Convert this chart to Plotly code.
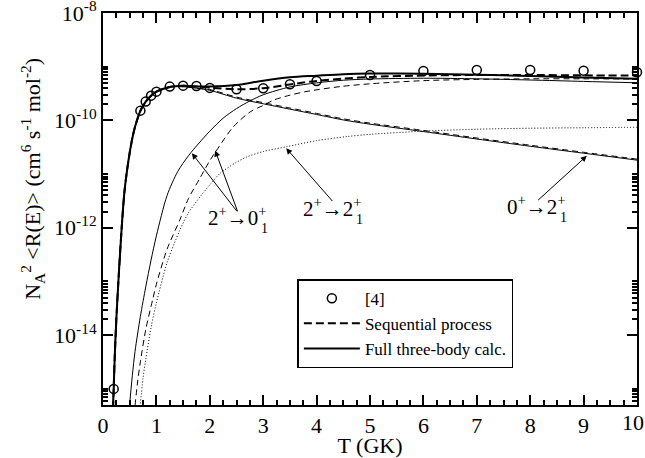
import numpy as np
import plotly.graph_objects as go

# ---- data ----
T_data = [0.2, 0.7, 0.8, 0.9, 1.0, 1.25, 1.5, 1.75, 2.0, 2.5, 3.0, 3.5, 4.0, 5.0, 6.0, 7.0, 8.0, 9.0, 10.0]
R_data = [1.0e-15, 1.52e-10, 2.24e-10, 2.89e-10, 3.43e-10, 4.26e-10, 4.44e-10, 4.38e-10, 4.03e-10,
          3.80e-10, 3.97e-10, 4.71e-10, 5.43e-10, 7.03e-10, 8.34e-10, 8.7e-10, 8.7e-10, 8.45e-10, 7.88e-10]

T_tot = [0.18, 0.2, 0.22, 0.25, 0.3, 0.35, 0.4, 0.45, 0.5, 0.55, 0.6, 0.65, 0.7, 0.8, 0.9, 1.0,
         1.25, 1.5, 1.75, 2.0, 2.5, 3.0, 3.5, 4.0, 4.5, 5, 6, 7, 8, 9, 10]
R_full = [2.5e-16, 1.0e-15, 4.0e-15, 2.0e-14, 1.6e-13, 1.0e-12, 4.5e-12, 1.17e-11, 2.5e-11, 4.7e-11,
          7.6e-11, 1.1e-10, 1.51e-10, 2.24e-10, 2.88e-10, 3.43e-10, 4.2e-10, 4.4e-10, 4.3e-10, 4.27e-10,
          4.57e-10, 5.5e-10, 6.35e-10, 6.8e-10, 7.25e-10, 7.45e-10, 7.4e-10, 7.1e-10, 6.7e-10, 6.3e-10, 5.95e-10]
R_seq = [2.5e-16, 1.0e-15, 4.0e-15, 2.0e-14, 1.6e-13, 1.0e-12, 4.5e-12, 1.17e-11, 2.5e-11, 4.7e-11,
         7.6e-11, 1.1e-10, 1.51e-10, 2.24e-10, 2.88e-10, 3.43e-10, 4.2e-10, 4.4e-10, 4.27e-10, 4.07e-10,
         3.8e-10, 3.98e-10, 4.68e-10, 5.43e-10, 6.0e-10, 6.45e-10, 6.85e-10, 7.0e-10, 7.0e-10, 6.9e-10, 6.85e-10]

# 0+ -> 2+_1 component (full / sequential)
R_a_full = [2.5e-16, 1.0e-15, 4.0e-15, 2.0e-14, 1.6e-13, 1.0e-12, 4.5e-12, 1.17e-11, 2.5e-11, 4.7e-11,
            7.6e-11, 1.1e-10, 1.51e-10, 2.24e-10, 2.88e-10, 3.43e-10, 4.2e-10, 4.24e-10, 3.98e-10, 3.63e-10,
            2.6e-10, 2.04e-10, 1.62e-10, 1.29e-10, 1.02e-10, 8.5e-11, 6.2e-11, 4.5e-11, 3.3e-11, 2.45e-11, 1.82e-11]
R_a_seq = [2.5e-16, 1.0e-15, 4.0e-15, 2.0e-14, 1.6e-13, 1.0e-12, 4.5e-12, 1.17e-11, 2.5e-11, 4.7e-11,
           7.6e-11, 1.1e-10, 1.51e-10, 2.24e-10, 2.88e-10, 3.43e-10, 4.2e-10, 4.24e-10, 4.0e-10, 3.75e-10,
           2.72e-10, 2.14e-10, 1.7e-10, 1.35e-10, 1.07e-10, 8.9e-11, 6.5e-11, 4.7e-11, 3.45e-11, 2.55e-11, 1.9e-11]

# 2+ -> 0+_1 component, full three-body
T_b = [0.48, 0.55, 0.6, 0.7, 0.8, 0.9, 1.0, 1.2, 1.4, 1.6, 1.8, 2.0, 2.25, 2.5, 2.75, 3.0, 3.5, 4.0, 4.5, 5, 6, 7, 8, 9, 10]
R_b = [3.2e-16, 1.8e-15, 5.0e-15, 2.24e-14, 7.9e-14, 2.5e-13, 7.1e-13, 4.0e-12, 1.12e-11, 2.2e-11, 3.8e-11,
       6.3e-11, 1.1e-10, 1.66e-10, 2.3e-10, 3.0e-10, 4.2e-10, 5.0e-10, 5.6e-10, 5.9e-10, 6.1e-10, 5.95e-10,
       5.65e-10, 5.32e-10, 5.02e-10]

# 2+ -> 0+_1 component, sequential
T_c = [0.58, 0.65, 0.7, 0.8, 0.93, 1.0, 1.2, 1.44, 1.6, 1.8, 2.0, 2.13, 2.44, 2.76, 3.0, 3.2, 3.5, 3.82, 4.45, 5, 6, 7, 8, 9, 10]
R_c = [3.2e-16, 1.4e-15, 3.2e-15, 1.26e-14, 4.6e-14, 8.9e-14, 4.0e-13, 1.41e-12, 3.5e-12, 7.9e-12, 1.78e-11,
       2.8e-11, 7.6e-11, 1.45e-10, 1.9e-10, 2.4e-10, 2.95e-10, 3.47e-10, 4.27e-10, 4.8e-10, 5.5e-10, 5.8e-10,
       5.95e-10, 5.95e-10, 5.9e-10]

# 2+ -> 2+_1 component
T_d = [0.68, 0.75, 0.8, 0.9, 1.0, 1.2, 1.44, 1.6, 1.82, 2.0, 2.2, 2.5, 2.7, 3.0, 3.44, 4.0, 4.57, 5.0, 6, 7, 8, 9, 10]
R_d = [3.2e-16, 1.6e-15, 3.5e-15, 1.4e-14, 4.0e-14, 2.24e-13, 9.1e-13, 1.9e-12, 3.8e-12, 6.3e-12, 1.05e-11,
       1.66e-11, 2.1e-11, 2.63e-11, 3.24e-11, 4.2e-11, 5.0e-11, 5.5e-11, 6.3e-11, 6.85e-11, 7.15e-11, 7.3e-11, 7.45e-11]

x_ticks = list(range(0, 11))
x_ticktext = [str(v) for v in x_ticks[:-1]] + [""]   # last label drawn flush with the page edge below
y_tickvals = [1e-14, 1e-12, 1e-10, 1e-8]
y_ticktext = ["10<sup>-14</sup>", "10<sup>-12</sup>", "10<sup>-10</sup>", "10<sup>-8</sup>"]
y_minor = [k * 10.0 ** e for e in (-16, -14, -12, -10) for k in range(2, 11)]

FONT = "Liberation Serif"
fig = go.Figure()

def line(x, y, width, dash, name=None, legend=False, shape="spline"):
    fig.add_trace(go.Scatter(x=x, y=y, mode="lines", name=name, showlegend=legend,
                             line=dict(color="black", width=width, dash=dash, shape=shape, smoothing=0.8)))

# component curves (thin)
line(T_tot, R_a_full, 1, "solid")
line(T_tot, R_a_seq, 1, "6px,4px")
line(T_b, R_b, 1, "solid")
line(T_c, R_c, 1, "6px,4px")
line(T_d, R_d, 1, "1px,2px")

# data points
fig.add_trace(go.Scatter(x=T_data, y=R_data, mode="markers", name="[4]", cliponaxis=False,
                         marker=dict(symbol="circle-open", size=9, color="black", line=dict(width=1.5))))
# totals (thick)
line(T_tot, R_seq, 2, "8px,4px", name="Sequential process", legend=True)
line(T_tot, R_full, 2, "solid", name="Full three-body calc.", legend=True)

# arrows
arrows = [((2.53, 1.664), (-11.72, -10.61)),
          ((2.53, 2.10), (-11.72, -10.56)),
          ((4.32, 3.43), (-11.53, -10.517)),
          ((8.12, 9.06), (-11.51, -10.66))]
for (tx, hx), (ty, hy) in arrows:
    fig.add_annotation(x=hx, y=hy, ax=tx, ay=ty, xref="x", yref="y", axref="x", ayref="y",
                       text="", showarrow=True, arrowhead=2, arrowsize=1.2, arrowwidth=1, arrowcolor="black")

# transition labels: (right edge T, log10 of digit centre, left state, right state)
labels = [(3.10, -11.85, "2", "0"),
          (4.88, -11.68, "2", "2"),
          (8.71, -11.64, "0", "2")]
for x, y, a, b in labels:
    fig.add_annotation(x=x, y=y + 0.06, xref="x", yref="y", xanchor="right", yanchor="middle",
                       text=f"{a}<sup>+</sup>→{b}<sup>+</sup>", showarrow=False,
                       font=dict(family=FONT, size=21, color="black"))
    fig.add_annotation(x=x, y=y - 0.17, xref="x", yref="y", xanchor="right", yanchor="middle",
                       text="1", showarrow=False, xshift=1,
                       font=dict(family=FONT, size=14, color="black"))

# last x tick label, kept inside the page like the reference
fig.add_annotation(x=1, y=0, xref="paper", yref="paper", xanchor="right", yanchor="top",
                   xshift=8, yshift=-4, text=str(x_ticks[-1]), showarrow=False, borderpad=0,
                   font=dict(family=FONT, size=22, color="black"))

# y-axis title as rotated annotation
fig.add_annotation(x=-0.131, y=0.577, xref="paper", yref="paper", textangle=-90, showarrow=False,
                   text="N<sub>A</sub><sup>2</sup> &lt;R(E)&gt; (cm<sup>6</sup> s<sup>-1</sup> mol<sup>-2</sup>)",
                   font=dict(family=FONT, size=22, color="black"), xanchor="center", yanchor="middle")

axis_common = dict(showline=True, linewidth=2, linecolor="black", mirror="ticks", ticks="inside",
                   tickwidth=1.5, tickcolor="black", ticklen=10, showgrid=False, zeroline=False,
                   ticklabeloverflow="allow", automargin=False,
                   tickfont=dict(family=FONT, size=22, color="black"))

fig.update_layout(
    width=645, height=458,
    margin=dict(l=103, r=8, t=13, b=53, autoexpand=False),
    paper_bgcolor="white", plot_bgcolor="white",
    font=dict(family=FONT, size=20, color="black"),
    xaxis=dict(range=[0, 10], tickvals=x_ticks, ticktext=x_ticktext,
               minor=dict(dtick=0.25, tick0=0, ticks="inside", ticklen=5, tickwidth=1.5, tickcolor="black"),
               title=dict(text="T (GK)", font=dict(family=FONT, size=22), standoff=0),
               **axis_common),
    yaxis=dict(type="log", range=[-15.3, -8], tickvals=y_tickvals, ticktext=y_ticktext,
               minor=dict(tickvals=y_minor, ticks="inside", ticklen=5, tickwidth=1.5, tickcolor="black"),
               **axis_common),
    legend=dict(x=0.364, y=0.321, xanchor="left", yanchor="top", bgcolor="white",
                bordercolor="black", borderwidth=1.5, itemwidth=56,
                font=dict(family=FONT, size=17, color="black"), tracegroupgap=0),
)

fig.write_html("out.html")
